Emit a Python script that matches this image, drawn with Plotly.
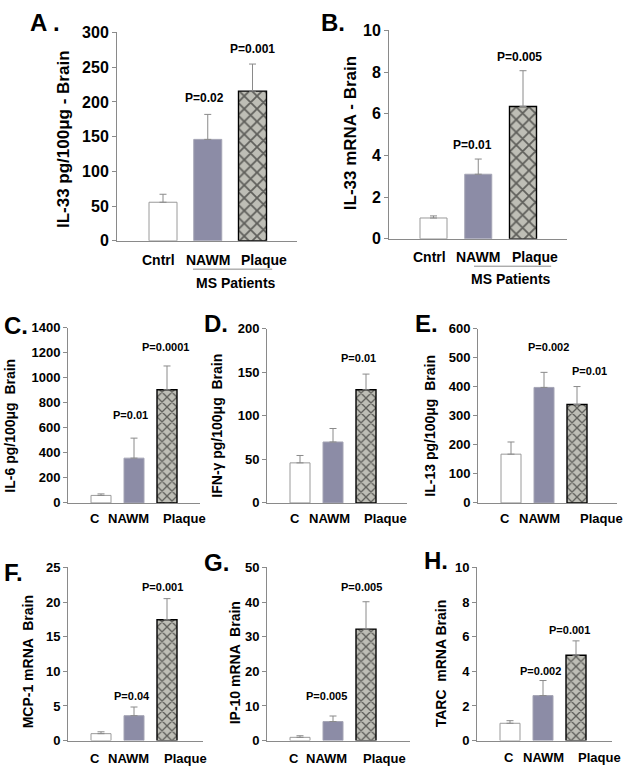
import plotly.graph_objects as go

W, H = 624, 776

# ---------------- data ----------------
cat_long = ["Cntrl", "NAWM", "Plaque"]
cat_short = ["C", "NAWM", "Plaque"]

il33_protein = [55.5, 146, 215.5]
il33_protein_err = [11.5, 36, 39]
il33_protein_p = ["", "P=0.02", "P=0.001"]

il33_mrna = [1.0, 3.1, 6.35]
il33_mrna_err = [0.1, 0.73, 1.72]
il33_mrna_p = ["", "P=0.01", "P=0.005"]

il6 = [60, 358, 905]
il6_err = [12, 160, 190]
il6_p = ["", "P=0.01", "P=0.0001"]

ifng = [46, 70, 130]
ifng_err = [8.5, 15.5, 18]
ifng_p = ["", "", "P=0.01"]

il13 = [168, 398, 339]
il13_err = [42, 52, 62]
il13_p = ["", "P=0.002", "P=0.01"]

mcp1 = [1.0, 3.6, 17.45]
mcp1_err = [0.27, 1.25, 3.05]
mcp1_p = ["", "P=0.04", "P=0.001"]

ip10 = [0.94, 5.5, 32.2]
ip10_err = [0.46, 1.6, 7.9]
ip10_p = ["", "P=0.005", "P=0.005"]

tarc = [1.0, 2.6, 4.93]
tarc_err = [0.15, 0.87, 0.83]
tarc_p = ["", "P=0.002", "P=0.001"]

# ---------------- layout spec (pixels) ----------------
panels = [
    dict(letter="A .", lpos=(28, 15), vals=il33_protein, err=il33_protein_err, p=il33_protein_p,
         cats=cat_long, title="IL-33 pg/100μg - Brain", tpos=(63, 134), ymax=300, dtick=50,
         box=(117, 297, 25, 238), first=46, step=44.75, barw=28, cat_gap=19,
         p_dx=[0, -0.07, 0.0], p_y=[0, 205, 276], cat_dx=[-0.11, 0.01, 0.25],
         big=True, ms=dict(line=(0.67, 2.44, 267), text=(1.63, 281))),
    dict(letter="B.", lpos=(319, 15), vals=il33_mrna, err=il33_mrna_err, p=il33_mrna_p,
         cats=cat_long, title="IL-33 mRNA - Brain", tpos=(350, 128), ymax=10, dtick=2,
         box=(389, 567, 23, 236), first=44.5, step=44.75, barw=27, cat_gap=18,
         p_dx=[0, -0.13, -0.07], p_y=[0, 4.49, 8.75], cat_dx=[-0.1, 0.0, 0.27],
         big=True, ms=dict(line=(0.905, 2.63, 264), text=(1.74, 277))),
    dict(letter="C.", lpos=(2, 325), vals=il6, err=il6_err, p=il6_p,
         cats=cat_short, title="IL-6 pg/100μg  Brain", tpos=(10, 427), ymax=1400, dtick=200,
         box=(68, 200, 327, 506), first=33, step=33, barw=20, cat_gap=16,
         p_dx=[0, -0.12, -0.06], p_y=[0, 700, 1243], cat_dx=[-0.18, -0.17, 0.53],
         big=False, ms=None),
    dict(letter="D.", lpos=(202, 323), vals=ifng, err=ifng_err, p=ifng_p,
         cats=cat_short, title="IFN-γ pg/100μg  Brain", tpos=(217, 427), ymax=200, dtick=50,
         box=(267, 407, 328, 506), first=33, step=33, barw=20, cat_gap=16,
         p_dx=[0, 0, -0.24], p_y=[0, 0, 167], cat_dx=[-0.14, -0.12, 0.58],
         big=False, ms=None),
    dict(letter="E.", lpos=(413, 323), vals=il13, err=il13_err, p=il13_p,
         cats=cat_short, title="IL-13 pg/100μg  Brain", tpos=(430, 427), ymax=600, dtick=100,
         box=(478, 617, 328, 506), first=33, step=33, barw=20, cat_gap=16,
         p_dx=[0, 0.14, 0.39], p_y=[0, 539, 455], cat_dx=[-0.17, -0.14, 0.73],
         big=False, ms=None),
    dict(letter="F.", lpos=(2, 577), vals=mcp1, err=mcp1_err, p=mcp1_p,
         cats=cat_short, title="MCP-1 mRNA  Brain", tpos=(28, 669), ymax=25, dtick=5,
         box=(68, 203, 572, 749), first=33, step=33, barw=20, cat_gap=18,
         p_dx=[0, -0.06, -0.15], p_y=[0, 6.5, 22.2], cat_dx=[-0.18, -0.17, 0.55],
         big=False, ms=None),
    dict(letter="G.", lpos=(202, 567), vals=ip10, err=ip10_err, p=ip10_p,
         cats=cat_short, title="IP-10 mRNA  Brain", tpos=(235, 670), ymax=50, dtick=10,
         box=(267, 410, 572, 749), first=33, step=33, barw=20, cat_gap=18,
         p_dx=[0, -0.2, -0.15], p_y=[0, 13, 44.3], cat_dx=[-0.17, -0.2, 0.55],
         big=False, ms=None),
    dict(letter="H.", lpos=(422, 565), vals=tarc, err=tarc_err, p=tarc_p,
         cats=cat_short, title="TARC  mRNA Brain", tpos=(441, 670), ymax=10, dtick=2,
         box=(477, 612, 572, 749), first=33, step=33, barw=20, cat_gap=17,
         p_dx=[0, -0.09, -0.2], p_y=[0, 4.0, 6.37], cat_dx=[-0.03, 0.02, 0.7],
         big=False, ms=None),
]

FONT = "Liberation Sans, Arial, sans-serif"
AXIS_GRAY = "#8a8a8a"
bar_fill = ["#ffffff", "#8c8ca6", "#bebeb6"]
bar_line = ["#9a9a9a", "#a4a4b4", "#000000"]

def px(x):
    return x / W

def py(y):
    return 1 - y / H

fig = go.Figure()
annotations = []
shapes = []

for k, pnl in enumerate(panels):
    n = "" if k == 0 else str(k + 1)
    xa, ya = "x" + n, "y" + n
    x0, x1, yt, yb = pnl["box"]
    step = pnl["step"]
    xmin = -pnl["first"] / step
    xmax = xmin + (x1 - x0) / step
    idx = list(range(len(pnl["vals"])))
    for i in idx:
        marker = dict(color=bar_fill[i], line=dict(color=bar_line[i], width=1.4 if i == 2 else 1))
        if i == 2:
            marker["pattern"] = dict(shape="x", fgcolor="#000000", bgcolor=bar_fill[i],
                                     size=9 if pnl["big"] else 7, solidity=0.35)
        fig.add_trace(go.Bar(
            x=[i], y=[pnl["vals"][i]], width=pnl["barw"] / step,
            marker=marker, xaxis=xa, yaxis=ya, showlegend=False,
            error_y=dict(type="data", symmetric=False, array=[pnl["err"][i]], arrayminus=[0],
                         color=AXIS_GRAY, thickness=1, width=3.5),
        ))
    tick_size = 16 if pnl["big"] else 13
    tvals = list(range(0, pnl["ymax"] + 1, pnl["dtick"]))
    fig.update_layout(**{
        ("xaxis" + n): dict(domain=[px(x0), px(x1)], range=[xmin, xmax], anchor=ya,
                            showline=True, linecolor=AXIS_GRAY, linewidth=1,
                            showticklabels=False, ticks="", showgrid=False, zeroline=False),
        ("yaxis" + n): dict(domain=[py(yb), py(yt)], range=[0, pnl["ymax"]],
                            tickvals=tvals, ticktext=["<b>%d</b>" % v for v in tvals],
                            anchor=xa, showline=True, linecolor=AXIS_GRAY, linewidth=1,
                            ticks="outside", ticklen=4, tickcolor=AXIS_GRAY, showgrid=False,
                            zeroline=False,
                            tickfont=dict(family=FONT, size=tick_size, color="black")),
    })
    # panel letter
    annotations.append(dict(text="<b>%s</b>" % pnl["letter"], xref="paper", yref="paper",
                            x=px(pnl["lpos"][0]), y=py(pnl["lpos"][1]), xanchor="left", yanchor="middle",
                            showarrow=False, font=dict(family=FONT, size=24, color="black")))
    # y title
    annotations.append(dict(text="<b>%s</b>" % pnl["title"], xref="paper", yref="paper", textangle=-90,
                            x=px(pnl["tpos"][0]), y=py(pnl["tpos"][1]), xanchor="center", yanchor="middle",
                            showarrow=False,
                            font=dict(family=FONT, size=17 if pnl["big"] else 14, color="black")))
    # category labels
    for i, c in enumerate(pnl["cats"]):
        annotations.append(dict(text="<b>%s</b>" % c, xref=xa, yref="paper", x=i + pnl["cat_dx"][i], y=py(yb),
                                yshift=-pnl["cat_gap"], xanchor="center", yanchor="middle",
                                showarrow=False,
                                font=dict(family=FONT, size=14 if pnl["big"] else 13, color="black")))
    # p-values
    for i, t in enumerate(pnl["p"]):
        if t:
            annotations.append(dict(text="<b>%s</b>" % t, xref=xa, yref=ya, x=i + pnl["p_dx"][i], y=pnl["p_y"][i],
                                    xanchor="center", yanchor="middle", showarrow=False,
                                    font=dict(family=FONT, size=12 if pnl["big"] else 11, color="black")))
    # MS patients bracket
    if pnl["ms"]:
        lx0, lx1, ly = pnl["ms"]["line"]
        shapes.append(dict(type="line", xref=xa, yref="paper", x0=lx0, x1=lx1, y0=py(ly), y1=py(ly),
                           line=dict(color=AXIS_GRAY, width=1)))
        tx, ty = pnl["ms"]["text"]
        annotations.append(dict(text="<b>MS Patients</b>", xref=xa, yref="paper", x=tx, y=py(ty),
                                xanchor="center", yanchor="middle", showarrow=False,
                                font=dict(family=FONT, size=14, color="black")))

fig.update_layout(width=W, height=H, margin=dict(l=0, r=0, t=0, b=0),
                  paper_bgcolor="white", plot_bgcolor="white", barmode="overlay",
                  annotations=annotations, shapes=shapes, showlegend=False)

fig.write_html("out.html", config={"displayModeBar": False},
               post_script="document.body.style.margin='0px';")
